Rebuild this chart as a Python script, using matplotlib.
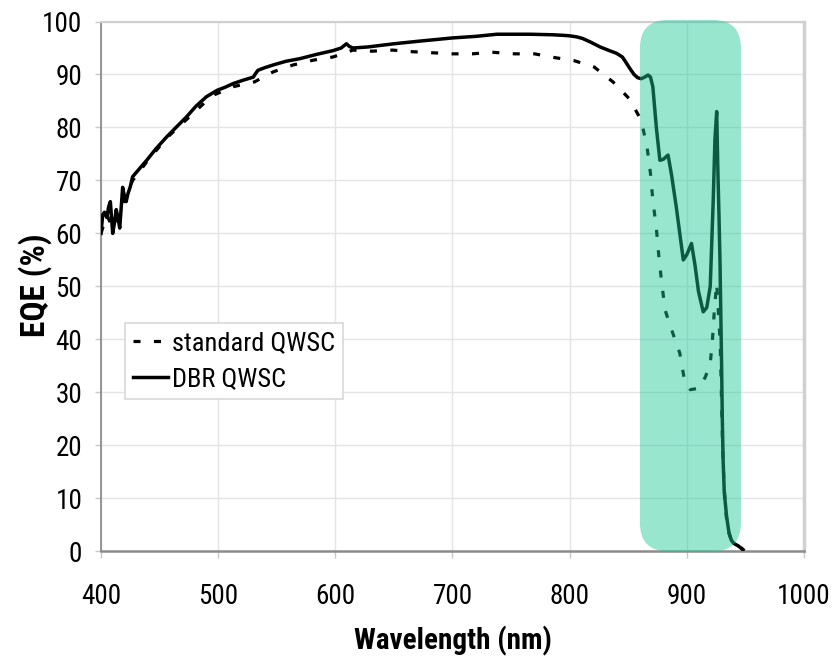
import matplotlib
matplotlib.use("Agg")
import matplotlib.pyplot as plt
from matplotlib.patches import FancyBboxPatch

plt.rcParams['font.family'] = ['Liberation Sans Narrow', 'Roboto Condensed',
                               'Liberation Sans', 'DejaVu Sans']

# DBR QWSC (solid curve)
dbr_wl = [400, 401.5, 403, 405, 406.5, 408, 409, 410, 411.5, 413, 414.5, 416, 418.5,
          420, 421.5, 423, 425, 427, 432, 439, 447, 456, 464, 473, 481, 490, 499,
          506, 513, 521, 530, 532, 534, 540, 547, 558, 570, 584, 598, 605, 609.5,
          612, 615, 628, 650, 672, 700, 720, 738, 766, 785, 794, 800, 806, 811,
          818, 826, 834, 840, 845, 848, 851.5, 855, 858, 861, 864, 867, 869, 871,
          874, 877, 880, 884, 887, 891, 894, 897, 900, 904, 907, 910, 914, 917,
          920, 922.5, 924, 925.5, 926.5, 927.5, 928.3, 929, 929.7, 930.3, 931, 932,
          934, 936, 938, 940, 944, 948]
dbr_eqe = [60, 63.5, 64, 63, 65, 66, 63, 60, 62, 64.5, 63, 61, 68.7,
           67, 66, 67.5, 68.8, 70.7, 72, 73.8, 76, 78.2, 80, 82, 84, 85.8, 87,
           87.6, 88.3, 88.9, 89.5, 90.2, 90.8, 91.3, 91.8, 92.5, 93, 93.8, 94.5, 95, 95.8,
           95.3, 95, 95.2, 95.8, 96.3, 96.9, 97.2, 97.6, 97.6, 97.5, 97.4, 97.3, 97.1, 96.8,
           96.1, 95.2, 94.5, 94.0, 93.3, 92.3, 91.1, 90.0, 89.4, 89.2, 89.5, 89.9, 89.5, 87.7,
           80, 73.8, 74, 74.8, 71, 65, 60, 55, 56, 58.1, 54, 49, 45.2, 46,
           50, 66, 77.7, 83, 72, 63, 55, 45, 35, 25, 17, 11,
           6.5, 3.5, 2.1, 1.5, 1.0, 0.3]

# standard QWSC (dashed curve)
std_wl = [400, 405, 410, 415, 420, 427, 439, 456, 473, 490, 497, 513, 531, 547, 564,
          581, 598, 615, 631, 649, 666, 683, 700, 717, 734, 753, 770, 787, 804, 821,
          837, 851, 861, 866, 869, 871, 874, 876, 878.5, 881.5, 888, 894, 898, 903,
          911, 916, 920, 922, 923.5, 925.5, 927, 928.5, 929.5, 930.5, 931.5, 933,
          935, 938, 941, 945, 948]
std_eqe = [60, 63.5, 61, 63, 66.5, 70, 73.5, 78, 81.5, 85, 86.2, 87.7, 88.6, 90.5, 91.8,
           92.7, 93.3, 94.6, 94.4, 94.6, 94.3, 94.1, 93.9, 93.9, 94.2, 93.9, 93.9, 93.2, 92.6, 91.4,
           88.6, 85.4, 81.4, 76.4, 71.3, 66.3, 61, 56, 50.8, 45.5, 41.2, 37.4, 32.3, 30.5,
           30.8, 33, 35.4, 40.3, 45.5, 50.6, 45, 39.3, 30, 20, 14, 8,
           4, 2.1, 1.5, 1.0, 0.3]

x_ticks = [400, 500, 600, 700, 800, 900, 1000]
y_ticks = list(range(0, 101, 10))

fig = plt.figure(figsize=(8.38, 6.58), dpi=100)
ax = fig.add_axes([0.1205, 0.1622, 0.8389, 0.8051])

ax.plot(std_wl, std_eqe, color='black', lw=2.3, linestyle=(0, (2.2, 4.2)),
        label='standard QWSC', zorder=3)
ax.plot(dbr_wl, dbr_eqe, color='black', lw=2.5, label='DBR QWSC', zorder=4)

# highlighted region (rounded box drawn over the curves)
px_x = 703 / 600.0
px_y = 530 / 100.0
box = FancyBboxPatch((860, 0), 86.2, 100.3,
                     boxstyle="round,pad=0,rounding_size=24",
                     mutation_aspect=px_x / px_y,
                     facecolor=(30 / 255, 200 / 255, 150 / 255), alpha=0.45,
                     edgecolor='none', zorder=5, clip_on=False)
ax.add_patch(box)

ax.set_xlim(400, 1000)
ax.set_ylim(0, 100)
ax.set_xticks(x_ticks)
ax.set_yticks(y_ticks)
ax.grid(True, color='#e4e4e4', lw=1.0, zorder=0)
ax.set_axisbelow(True)

ax.spines['left'].set_color('#8c8c8c')
ax.spines['left'].set_linewidth(1.3)
ax.spines['bottom'].set_color('#8c8c8c')
ax.spines['bottom'].set_linewidth(1.8)
ax.spines['top'].set_color('#cfcfcf')
ax.spines['top'].set_linewidth(1.5)
ax.spines['right'].set_color('#d0d0d0')
ax.spines['right'].set_linewidth(2.5)

ax.tick_params(axis='both', direction='out', color='#c8c8c8', width=1.0,
               labelsize=19.5, labelcolor='black')
ax.tick_params(axis='x', length=5, pad=17.5)
ax.tick_params(axis='y', length=4.5, pad=9)

ax.set_xlabel('Wavelength (nm)', fontsize=21, fontweight='bold', labelpad=12)
fig.text(0.042, 0.567, 'EQE (%)', rotation=90, ha='center', va='center',
         fontsize=24, fontweight='bold')

leg = ax.legend(loc='upper left', bbox_to_anchor=(0.034, 0.431), borderaxespad=0,
                fontsize=19, handlelength=1.35, handletextpad=0.15,
                labelspacing=0.45, borderpad=0.3, fancybox=False,
                framealpha=1, edgecolor='#d8d8d8')
leg.get_frame().set_linewidth(1.2)

fig.savefig('out.png', dpi=100)
